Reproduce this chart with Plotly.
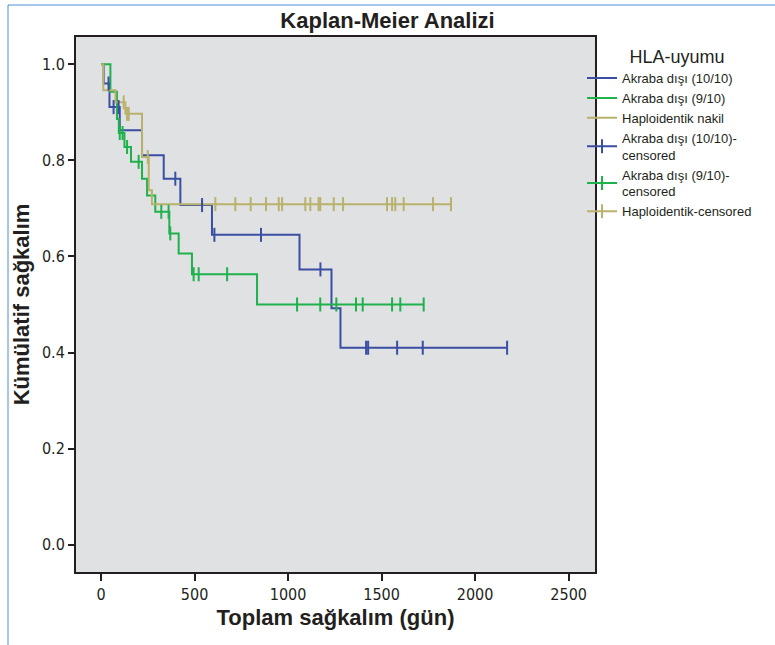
import plotly.graph_objects as go

# ---- data ----
series_names = ["Akraba dışı (10/10)", "Akraba dışı (9/10)", "Haploidentik nakil"]
censor_names = ["Akraba dışı (10/10)-<br>censored", "Akraba dışı (9/10)-<br>censored", "Haploidentik-censored"]

blue_times = [0, 14, 45, 100, 219, 335, 424, 593, 1061, 1232, 1280]
blue_surv = [1.0, 0.96, 0.911, 0.863, 0.811, 0.762, 0.707, 0.645, 0.573, 0.492, 0.41]
blue_end = 2171
blue_censor = [40, 67, 94, 397, 540, 606, 855, 1173, 1417, 1428, 1583, 1720, 2171]

green_times = [0, 50, 85, 95, 125, 160, 219, 246, 290, 365, 415, 486, 834]
green_surv = [1.0, 0.943, 0.886, 0.857, 0.828, 0.797, 0.762, 0.727, 0.693, 0.648, 0.606, 0.563, 0.50]
green_end = 1725
green_censor = [100, 115, 139, 201, 322, 361, 370, 495, 522, 674, 1048, 1172, 1258, 1363, 1399, 1556, 1600, 1725]

tan_times = [0, 12, 77, 130, 219, 255, 272]
tan_surv = [1.0, 0.946, 0.921, 0.897, 0.807, 0.738, 0.709]
tan_end = 1871
tan_censor = [121, 139, 148, 250, 611, 718, 800, 882, 950, 968, 1092, 1119, 1163, 1172,
              1244, 1294, 1529, 1556, 1573, 1618, 1775, 1871]

x_ticks = [0, 500, 1000, 1500, 2000, 2500]
y_ticks = [0.0, 0.2, 0.4, 0.6, 0.8, 1.0]

colors = ["#3a4ea2", "#1eb14c", "#b8b26c"]


def surv_at(times, surv, t):
    s = surv[0]
    for tt, ss in zip(times, surv):
        if tt <= t:
            s = ss
    return s


fig = go.Figure()

groups = [
    (blue_times, blue_surv, blue_end, blue_censor),
    (green_times, green_surv, green_end, green_censor),
    (tan_times, tan_surv, tan_end, tan_censor),
]

for (times, surv, end, cens), name, col in zip(groups, series_names, colors):
    fig.add_trace(go.Scatter(
        x=list(times) + [end], y=list(surv) + [surv[-1]],
        mode="lines", line=dict(color=col, width=2, shape="hv"),
        name=name, hoverinfo="skip"))

for (times, surv, end, cens), name, col in zip(groups, censor_names, colors):
    xs, ys = [], []
    for c in cens:
        xs += [c, None]
        ys += [surv_at(times, surv, c), None]
    fig.add_trace(go.Scatter(
        x=xs, y=ys, mode="lines+markers", connectgaps=False,
        line=dict(color=col, width=2),
        marker=dict(symbol="line-ns-open", size=10, line=dict(color=col, width=2)),
        name=name, hoverinfo="skip"))

tick_font = dict(family="DejaVu Sans Condensed, Liberation Sans Narrow, Arial Narrow, sans-serif",
                 size=16, color="#231f20")
bold_font = dict(family="Liberation Sans, Arial, sans-serif", size=22, color="#231f20")

fig.update_layout(
    width=775, height=645,
    margin=dict(l=76, r=180, t=37, b=73, autoexpand=False),
    paper_bgcolor="white", plot_bgcolor="#e0e1e3",
    title=dict(text="<b>Kaplan-Meier Analizi</b>", x=0.5, xref="container", xanchor="center",
               y=1 - 20 / 645, yanchor="middle", yref="container", font=bold_font),
    showlegend=True,
    legend=dict(
        x=0.975, xanchor="left", y=0.995, yanchor="top",
        font=dict(family="Liberation Sans, Arial, sans-serif", size=13, color="#231f20"),
        title=dict(text="   HLA-uyumu", side="top center",
                   font=dict(family="Liberation Sans, Arial, sans-serif", size=18, color="#231f20")),
        itemwidth=30, tracegroupgap=0, bgcolor="rgba(0,0,0,0)", borderwidth=0,
    ),
    xaxis=dict(
        range=[-134, 2641], tickvals=x_ticks, ticktext=[str(v) for v in x_ticks],
        ticks="outside", ticklen=7, tickwidth=2, tickcolor="#231f20",
        showline=True, linewidth=2, linecolor="#231f20", mirror=True,
        showgrid=False, zeroline=False, tickfont=tick_font,
        title=dict(text="<b>Toplam sağkalım (gün)</b>", font=bold_font, standoff=6),
    ),
    yaxis=dict(
        range=[-0.057, 1.057], tickvals=y_ticks, ticktext=["%.1f" % v for v in y_ticks],
        ticks="outside", ticklen=6, tickwidth=2, tickcolor="#231f20",
        showline=True, linewidth=2, linecolor="#231f20", mirror=True,
        showgrid=False, zeroline=False, tickfont=tick_font,
        title=dict(text="<b>Kümülatif sağkalım</b>", font=bold_font, standoff=6),
    ),
    shapes=[dict(type="rect", xref="paper", yref="paper",
                 x0=-0.131, x1=1.45, y0=-0.2, y1=1.0598,
                 line=dict(color="#4a8fd4", width=1), fillcolor="rgba(0,0,0,0)", layer="below")],
)

fig.write_html("out.html", config={"displayModeBar": False},
               post_script="document.body.style.margin='0';")
